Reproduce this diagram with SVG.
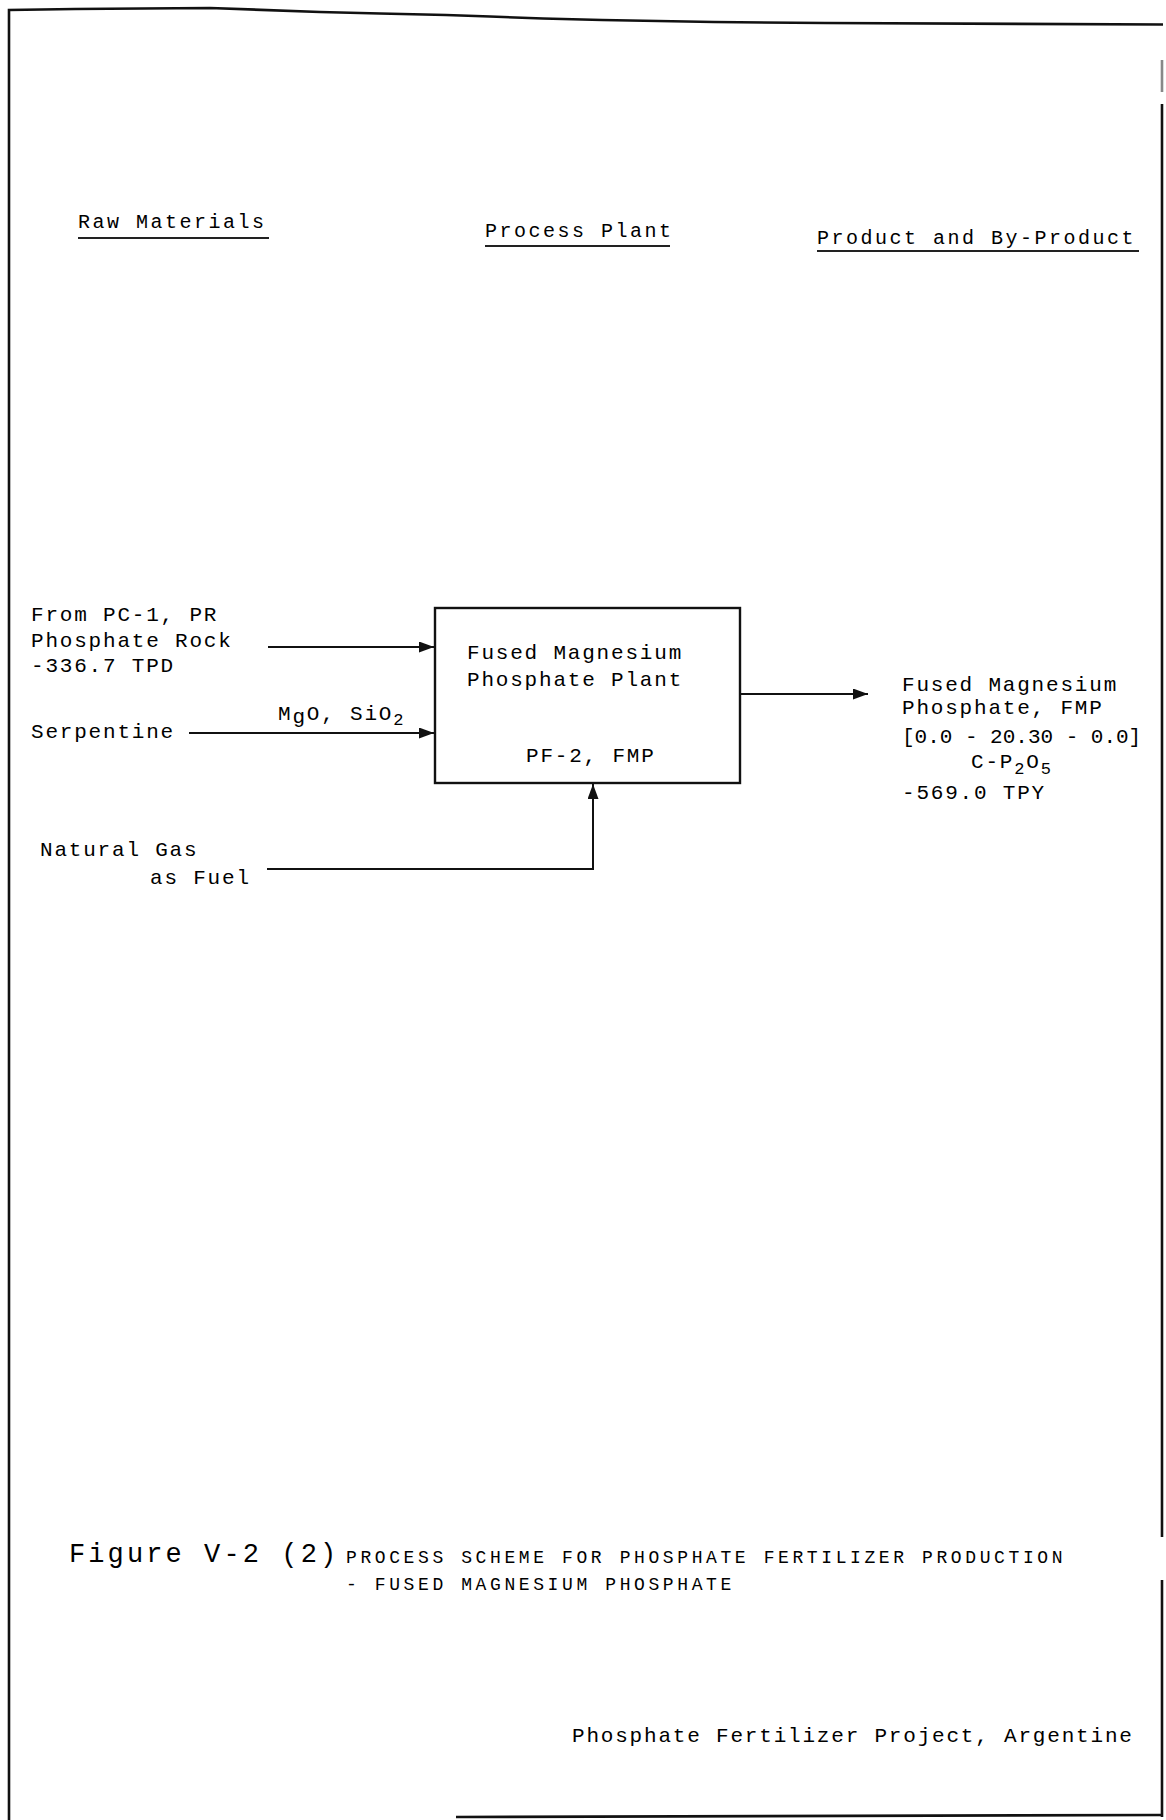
<svg xmlns="http://www.w3.org/2000/svg" width="1166" height="1820" viewBox="0 0 1166 1820">
<defs>
<style>
.t{font-family:"Liberation Mono","DejaVu Sans Mono",monospace;font-size:21px;letter-spacing:1.8px;fill:#000}
.h{font-family:"Liberation Mono","DejaVu Sans Mono",monospace;font-size:20px;letter-spacing:2.5px;fill:#000}
.cap{font-family:"Liberation Mono","DejaVu Sans Mono",monospace;font-size:18px;letter-spacing:3.6px;fill:#000}
.fig{font-family:"Liberation Mono","DejaVu Sans Mono",monospace;font-size:27px;letter-spacing:3.1px;fill:#000}
.frame{fill:none;stroke:#111;stroke-width:2.6}
.ul{stroke:#222;stroke-width:2}
.conn{fill:none;stroke:#111;stroke-width:2}
.box{fill:none;stroke:#111;stroke-width:2.4}
</style>
<marker id="arr" markerUnits="userSpaceOnUse" markerWidth="16" markerHeight="12" refX="15" refY="5.5" orient="auto">
<path d="M0,0 L15,5.5 L0,11 z" fill="#111"/>
</marker>
</defs>
<rect width="1166" height="1820" fill="#fff"/>

<g id="frame">
<polyline class="frame" points="9,1820 9,10 75,9 210,8 320,12 380,13.5 446,15 490,16.5 543,18.5 602,20 714,22 825,23 1163,24.5"/>
<line class="frame" x1="1162" y1="60" x2="1162" y2="92" stroke-opacity="0.5"/>
<line class="frame" x1="1162" y1="104" x2="1162" y2="1537"/>
<line class="frame" x1="1162" y1="1580" x2="1162" y2="1817"/>
<line class="frame" x1="456" y1="1817" x2="1163" y2="1815"/>
</g>

<g id="headers">
<text class="h" x="78" y="228">Raw Materials</text>
<line class="ul" x1="78" y1="238" x2="269" y2="238"/>
<text class="h" x="485" y="237">Process Plant</text>
<line class="ul" x1="485" y1="246" x2="670" y2="246"/>
<text class="h" x="817" y="244">Product and By-Product</text>
<line class="ul" x1="817" y1="251" x2="1139" y2="251"/>
</g>

<g id="phosphate-rock">
<text class="t" x="31" y="621">From PC-1, PR</text>
<text class="t" x="31" y="647">Phosphate Rock</text>
<text class="t" x="31" y="672">-336.7 TPD</text>
</g>

<g id="serpentine">
<text class="t" x="31" y="738">Serpentine</text>
</g>

<g id="natural-gas">
<text class="t" x="40" y="856">Natural Gas</text>
<text class="t" x="150" y="884">as Fuel</text>
</g>

<g id="plant">
<rect class="box" x="435" y="608" width="305" height="175"/>
<text class="t" x="467" y="659">Fused Magnesium</text>
<text class="t" x="467" y="686">Phosphate Plant</text>
<text class="t" x="526" y="762">PF-2, FMP</text>
</g>

<g id="product">
<text class="t" x="902" y="691">Fused Magnesium</text>
<text class="t" x="902" y="714">Phosphate, FMP</text>
<text class="t" x="902" y="743" textLength="241" lengthAdjust="spacing">[0.0 - 20.30 - 0.0]</text>
<text class="t" x="971" y="768">C-P<tspan dy="6" font-size="17">2</tspan><tspan dy="-6">O</tspan><tspan dy="6" font-size="17">5</tspan></text>
<text class="t" x="902" y="799">-569.0 TPY</text>
</g>

<g id="connectors">
<line class="conn" x1="268" y1="647" x2="434" y2="647" marker-end="url(#arr)"/>
<line class="conn" x1="189" y1="733" x2="434" y2="733" marker-end="url(#arr)"/>
<text class="t" x="278" y="720">M<tspan dy="3">g</tspan><tspan dy="-3">O, SiO</tspan><tspan dy="5" font-size="17">2</tspan></text>
<polyline class="conn" points="267,869 593,869 593,784" marker-end="url(#arr)"/>
<line class="conn" x1="740" y1="694" x2="868" y2="694" marker-end="url(#arr)"/>
</g>

<g id="caption">
<text class="fig" x="69" y="1562">Figure V-2 (2)</text>
<text class="cap" x="346" y="1563">PROCESS SCHEME FOR PHOSPHATE FERTILIZER PRODUCTION</text>
<text class="cap" x="346" y="1590">- FUSED MAGNESIUM PHOSPHATE</text>
</g>

<g id="footer">
<text class="t" x="572" y="1742">Phosphate Fertilizer Project, Argentine</text>
</g>
</svg>
